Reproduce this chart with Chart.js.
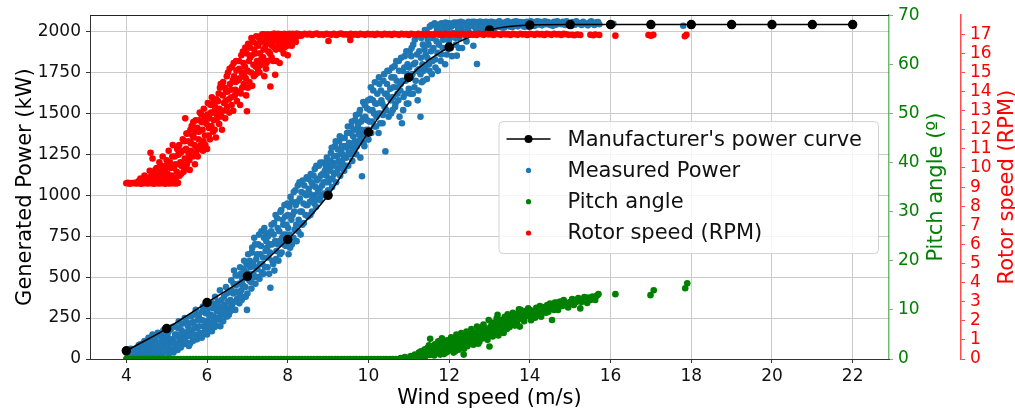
<!DOCTYPE html>
<html>
<head>
<meta charset="utf-8">
<title>Wind turbine power curve</title>
<script src="https://cdn.jsdelivr.net/npm/chart.js@4"></script>
<style>
  html, body { margin: 0; padding: 0; background: #fff; overflow: hidden; }
  canvas { display: block; }
</style>
</head>
<body>
<canvas id="powerChart" width="1015" height="414"></canvas>
<script>
// ---- tick labels ----
const windTicks = [4, 6, 8, 10, 12, 14, 16, 18, 20, 22];
const powerTicks = [0, 250, 500, 750, 1000, 1250, 1500, 1750, 2000];
const pitchTicks = [0, 10, 20, 30, 40, 50, 60, 70];
const rpmTicks = [0, 1, 2, 3, 4, 5, 6, 7, 8, 9, 10, 11, 12, 13, 14, 15, 16, 17];

// ---- manufacturer's curve (m/s -> kW) ----
const curveWind = [4, 5, 6, 7, 8, 9, 10, 11, 12, 13, 14, 15, 16, 17, 18, 19, 20, 21, 22];
const curvePower = [50, 186, 345, 505, 730, 1000, 1385, 1720, 1905, 2010, 2040, 2043, 2043, 2043, 2043, 2043, 2043, 2043, 2043];

// ---- measured power [wind m/s, kW] ----
const measuredPower = [
  [4.02,8],[4.05,25],[4.08,3],[4.1,40],[4.12,15],[4.15,0],[4.18,55],[4.2,20],[4.22,5],[4.25,35],
  [4.28,70],[4.3,12],[4.32,48],[4.35,90],[4.37,2],[4.4,60],[4.42,28],[4.45,110],[4.47,15],[4.5,75],
  [4.52,42],[4.55,130],[4.57,8],[4.6,95],[4.62,55],[4.65,150],[4.67,25],[4.7,80],[4.72,115],[4.75,40],
  [4.78,160],[4.8,10],[4.82,100],[4.85,65],[4.87,135],[4.9,30],[4.92,175],[4.95,85],[4.97,120],[5.0,50],
  [4.03,45],[4.06,12],[4.11,62],[4.14,30],[4.19,8],[4.23,50],[4.27,18],[4.31,85],[4.34,30],[4.39,5],
  [4.41,95],[4.44,50],[4.48,20],[4.51,100],[4.54,65],[4.58,30],[4.61,125],[4.64,78],[4.68,45],[4.71,140],
  [4.74,90],[4.77,20],[4.81,60],[4.84,145],[4.88,95],[4.91,55],[4.94,150],[4.98,105],
  [5.02,140],[5.05,30],[5.07,95],[5.1,180],[5.12,60],[5.15,120],[5.17,40],[5.2,200],[5.22,85],[5.25,150],
  [5.27,55],[5.3,230],[5.32,110],[5.35,70],[5.37,175],[5.4,135],[5.42,90],[5.45,250],[5.47,160],[5.5,100],
  [5.01,75],[5.04,165],[5.08,120],[5.11,45],[5.14,195],[5.18,100],[5.21,150],[5.24,70],[5.28,190],[5.31,130],
  [5.34,90],[5.38,215],[5.41,160],[5.44,115],[5.48,230],[5.51,140],
  [5.52,205],[5.55,80],[5.57,140],[5.6,260],[5.62,180],[5.65,110],[5.67,225],[5.7,150],[5.72,300],[5.75,120],
  [5.77,195],[5.8,270],[5.82,160],[5.85,240],[5.87,130],[5.9,320],[5.92,200],[5.95,175],[5.97,280],[6.0,150],
  [5.54,175],[5.58,95],[5.61,220],[5.64,150],[5.68,270],[5.71,190],[5.74,125],[5.78,240],[5.81,200],[5.84,140],
  [5.88,290],[5.91,235],[5.94,160],[5.98,215],[6.01,300],[6.04,185],
  [6.02,230],[6.05,340],[6.07,195],[6.1,270],[6.12,170],[6.15,310],[6.17,230],[6.2,380],[6.22,205],[6.25,290],
  [6.27,350],[6.3,240],[6.32,420],[6.35,270],[6.37,320],[6.4,230],[6.42,380],[6.45,300],[6.47,440],[6.5,260],
  [6.06,260],[6.09,220],[6.13,340],[6.16,260],[6.19,195],[6.23,330],[6.26,250],[6.29,300],[6.33,200],[6.36,360],
  [6.39,290],[6.43,330],[6.46,260],[6.49,400],[6.51,310],[6.54,270],
  [6.52,350],[6.55,410],[6.57,290],[6.6,480],[6.62,330],[6.65,400],[6.67,540],[6.7,300],[6.72,450],[6.75,370],
  [6.77,510],[6.8,340],[6.82,560],[6.85,420],[6.87,480],[6.9,380],[6.92,600],[6.95,440],[6.97,530],[7.0,400],
  [6.58,360],[6.61,420],[6.63,300],[6.66,460],[6.69,350],[6.71,510],[6.74,410],[6.78,460],[6.81,400],[6.84,520],
  [6.86,360],[6.89,450],[6.91,550],[6.94,500],[6.96,380],[6.98,580],
  [6.99,300],[7.02,640],[7.05,480],[7.07,560],[7.1,430],[7.12,680],[7.15,520],[7.17,740],[7.2,460],[7.22,610],
  [7.25,550],[7.27,700],[7.3,490],[7.32,640],[7.35,780],[7.37,580],[7.4,520],[7.42,800],[7.45,660],[7.47,720],
  [7.03,520],[7.06,600],[7.09,470],[7.11,650],[7.14,580],[7.16,500],[7.19,700],[7.21,560],[7.24,640],[7.26,500],
  [7.29,760],[7.31,580],[7.34,690],[7.36,530],[7.39,620],[7.41,740],[7.44,560],[7.46,770],[7.49,680],
  [7.5,560],[7.52,620],[7.55,700],[7.57,435],[7.6,820],[7.62,600],[7.65,760],[7.67,540],[7.7,880],[7.72,660],
  [7.75,800],[7.77,600],[7.8,720],[7.82,900],[7.85,650],[7.87,850],[7.9,760],[7.92,940],[7.95,690],[7.97,820],
  [7.51,750],[7.54,520],[7.56,650],[7.59,780],[7.61,700],[7.64,580],[7.66,830],[7.69,720],[7.71,610],[7.74,860],
  [7.76,700],[7.79,780],[7.81,640],[7.84,910],[7.86,740],[7.89,820],[7.91,700],[7.94,870],[7.96,760],[7.99,950],
  [8.0,880],[8.02,640],[8.05,760],[8.07,990],[8.1,700],[8.12,880],[8.15,1020],[8.17,790],[8.2,940],[8.22,720],
  [8.25,1060],[8.27,850],[8.3,980],[8.32,760],[8.35,900],[8.37,1090],[8.4,830],[8.42,1010],[8.45,940],[8.47,1110],
  [8.01,800],[8.04,930],[8.06,680],[8.09,850],[8.11,960],[8.14,740],[8.16,900],[8.19,1030],[8.21,820],[8.24,960],
  [8.26,780],[8.29,1080],[8.31,900],[8.34,1020],[8.36,820],[8.39,950],[8.41,1060],[8.44,880],[8.46,1000],[8.49,940],
  [8.5,870],[8.52,1040],[8.55,960],[8.57,1130],[8.6,900],[8.62,1060],[8.65,1000],[8.67,1160],[8.7,930],[8.72,1090],
  [8.75,1020],[8.77,1180],[8.8,970],[8.82,1120],[8.85,1060],[8.87,1200],[8.9,1000],[8.92,1150],[8.95,1080],[8.97,1230],
  [8.51,1100],[8.54,1010],[8.56,880],[8.59,1080],[8.61,980],[8.64,1120],[8.66,950],[8.69,1050],[8.71,1180],[8.74,980],
  [8.76,1100],[8.79,1040],[8.81,1200],[8.84,1000],[8.86,1130],[8.89,1080],[8.91,1010],[8.94,1180],[8.96,1120],[8.99,1200],
  [9.0,1030],[9.02,1170],[9.05,1100],[9.07,1260],[9.1,1050],[9.12,1200],[9.15,1130],[9.17,1300],[9.2,1080],[9.22,1240],
  [9.25,1160],[9.27,1330],[9.3,1120],[9.32,1270],[9.35,1200],[9.37,1350],[9.4,1150],[9.42,1300],[9.45,1230],[9.47,1380],
  [9.01,1080],[9.04,1210],[9.06,1150],[9.09,1290],[9.11,1100],[9.14,1240],[9.16,1180],[9.19,1330],[9.21,1140],[9.24,1280],
  [9.26,1210],[9.29,1360],[9.31,1180],[9.34,1300],[9.36,1250],[9.39,1230],[9.41,1350],[9.44,1180],[9.46,1290],[9.49,1420],
  [9.5,1180],[9.52,1320],[9.55,1250],[9.57,1420],[9.6,1210],[9.62,1360],[9.65,1290],[9.67,1460],[9.7,1250],[9.72,1400],
  [9.75,1330],[9.77,1500],[9.8,1230],[9.82,1450],[9.84,1116],[9.85,1370],[9.87,1570],[9.9,1300],[9.92,1480],[9.95,1400],
  [9.51,1260],[9.54,1380],[9.56,1300],[9.59,1450],[9.61,1270],[9.64,1400],[9.66,1330],[9.69,1490],[9.71,1300],[9.74,1430],
  [9.76,1370],[9.79,1520],[9.81,1340],[9.83,1400],[9.86,1470],[9.88,1320],[9.91,1550],[9.93,1380],[9.96,1460],[9.99,1580],
  [9.97,1530],[10.0,1340],[10.02,1450],[10.05,1590],[10.07,1380],[10.1,1520],[10.12,1640],[10.15,1420],[10.17,1560],[10.2,1480],
  [10.22,1620],[10.25,1380],[10.27,1680],[10.3,1500],[10.32,1580],[10.35,1440],[10.37,1700],[10.4,1540],[10.42,1268],[10.45,1620],
  [10.01,1400],[10.04,1520],[10.06,1660],[10.09,1450],[10.11,1580],[10.14,1500],[10.16,1690],[10.19,1420],[10.21,1560],[10.24,1500],
  [10.26,1720],[10.29,1440],[10.31,1640],[10.34,1560],[10.36,1490],[10.39,1740],[10.41,1620],[10.44,1520],[10.46,1680],[10.49,1600],
  [10.47,1760],[10.5,1480],[10.55,1580],[10.57,1720],[10.6,1520],[10.62,1660],[10.65,1790],[10.67,1560],[10.7,1700],[10.72,1620],
  [10.75,1820],[10.77,1480],[10.8,1680],[10.83,1440],[10.85,1760],[10.87,1600],[10.9,1850],[10.92,1700],[10.95,1560],[10.97,1800],
  [10.51,1760],[10.54,1650],[10.56,1500],[10.59,1780],[10.61,1600],[10.64,1720],[10.66,1540],[10.69,1820],[10.71,1660],[10.74,1580],
  [10.76,1760],[10.79,1640],[10.81,1840],[10.84,1700],[10.86,1520],[10.89,1780],[10.91,1620],[10.94,1880],[10.96,1740],[10.99,1560],
  [11.0,1650],[11.02,1880],[11.05,1720],[11.07,1900],[11.1,1620],[11.12,1800],[11.15,1950],[11.17,1700],[11.2,1860],[11.22,1580],
  [11.25,1770],[11.27,1980],[11.29,1480],[11.3,1840],[11.32,1690],[11.35,1920],[11.37,1760],[11.4,2010],[11.42,1860],[11.45,1710],
  [11.01,1780],[11.04,1620],[11.06,1850],[11.09,1740],[11.11,1920],[11.14,1660],[11.16,1810],[11.19,1980],[11.21,1760],[11.24,1640],
  [11.26,1880],[11.29,1740],[11.31,1960],[11.34,1800],[11.36,1700],[11.39,1890],[11.41,1780],[11.44,2000],[11.46,1840],[11.49,1920],
  [11.47,1950],[11.5,1800],[11.52,2030],[11.55,1880],[11.57,1740],[11.6,1960],[11.62,2040],[11.65,1830],[11.67,1990],[11.7,2020],
  [11.72,1760],[11.75,1920],[11.77,2045],[11.8,1860],[11.82,2000],[11.85,1950],[11.87,2040],[11.9,1800],[11.92,1980],[11.95,2030],
  [11.51,1760],[11.54,1960],[11.56,2040],[11.59,1820],[11.61,1900],[11.64,2050],[11.66,1780],[11.69,1940],[11.71,1870],[11.74,2040],
  [11.76,1980],[11.79,1820],[11.81,2050],[11.84,1900],[11.86,2020],[11.89,1960],[11.91,2055],[11.94,1860],[11.96,2010],[11.99,1940],
  [11.97,1900],[12.0,2050],[12.02,1960],[12.05,2030],[12.07,1850],[12.1,2050],[12.12,1990],[12.15,2040],[12.17,1920],[12.19,1853],
  [12.2,2055],[12.22,2010],[12.25,1960],[12.27,2045],[12.3,2030],[12.32,1900],[12.35,2055],[12.37,2000],[12.4,2040],[12.42,1970],
  [12.45,2050],[12.47,2020],[12.5,2055],[12.52,1990],[12.55,2040],[12.57,2060],[12.6,1913],[12.62,2030],[12.65,2050],[12.67,2015],
  [12.69,1802],[12.72,2045],[12.75,2060],[12.77,2030],[12.8,2050],[12.82,2010],[12.85,2055],[12.87,2040],[12.9,2025],[12.92,2060],
  [12.01,2040],[12.04,1900],[12.09,1990],[12.13,2055],[12.16,1960],[12.21,2035],[12.24,1900],[12.29,2060],[12.33,2000],[12.38,2045],
  [12.43,1940],[12.48,2060],[12.53,2040],[12.58,1980],[12.63,2060],[12.68,2040],[12.73,2000],[12.79,2060],[12.84,2030],[12.89,2058],
  [12.94,2015],[12.99,2055],
  [12.95,2045],[12.97,2035],[13.02,2050],[13.05,2030],[13.08,2058],[13.1,2040],[13.13,2022],[13.16,2055],[13.2,2045],[13.23,2030],
  [13.26,2060],[13.3,2040],[13.33,2050],[13.37,2025],[13.4,2058],[13.43,2042],[13.47,2035],[13.5,2055],[13.53,2045],[13.57,2028],
  [13.6,2060],[13.63,2040],[13.67,2050],[13.7,2032],[13.73,2058],[13.77,2045],[13.8,2038],[13.84,2055],[13.88,2042],[13.92,2060],
  [13.96,2030],[14.0,2050],[14.04,2045],[14.08,2058],[14.12,2035],[14.16,2052],[14.2,2043],[14.25,2060],[14.3,2038],[14.35,2052],
  [14.4,2045],[14.45,2058],[14.5,2040],[14.55,2052],[14.6,2060],[14.65,2042],[14.7,2055],[14.76,2048],[14.82,2060],[14.88,2040],
  [14.94,2054],[15.0,2046],[15.06,2058],[15.12,2042],[15.18,2055],[15.25,2048],[15.32,2060],[15.4,2045],[15.48,2055],[15.56,2048],
  [15.65,2057],[15.72,2045],[16.07,2048],[17.8,2036],
  [13.04,2060],[13.11,2050],[13.18,2035],[13.24,2062],[13.31,2025],[13.38,2048],[13.45,2062],[13.52,2030],[13.59,2050],[13.66,2062],
  [13.72,2045],[13.79,2058],[13.86,2030],[13.94,2048],[14.02,2062],[14.1,2048],[14.18,2062],[14.27,2048],[14.37,2062],[14.47,2050],
  [14.57,2035],[14.68,2062],[14.79,2045],[14.91,2062],[15.03,2035],[15.15,2062],[15.28,2040],[15.36,2052],[15.44,2038],[15.52,2062],
  [15.6,2040],[15.69,2058]
];

// ---- pitch angle [wind m/s, deg] ----
const pitchZeroWind = [
  4.0,4.07,4.15,4.22,4.3,4.36,4.45,4.52,4.6,4.67,4.75,4.82,4.9,4.97,5.05,5.12,5.2,5.27,5.35,5.42,
  5.5,5.58,5.65,5.72,5.8,5.88,5.95,6.03,6.1,6.18,6.25,6.33,6.4,6.48,6.55,6.63,6.7,6.78,6.85,6.93,
  7.0,7.08,7.15,7.23,7.3,7.38,7.45,7.53,7.6,7.68,7.75,7.83,7.9,7.98,8.05,8.13,8.2,8.28,8.35,8.43,
  8.5,8.58,8.65,8.73,8.8,8.88,8.95,9.03,9.1,9.18,9.25,9.33,9.4,9.48,9.55,9.63,9.7,9.78,9.85,9.93,
  10.0,10.08,10.15,10.23,10.3,10.38,10.45,10.53,10.6,10.68,10.75
];
const pitchAngle = [
  [10.8,0.2],[10.9,0.4],[11.0,0.3],[11.05,0.6],[11.1,0.2],[11.15,0.9],[11.2,0.5],[11.25,1.3],[11.29,1.5],[11.3,0.4],
  [11.35,1.0],[11.4,2.0],[11.42,0.6],[11.45,1.6],[11.5,2.8],[11.53,4.1],[11.55,1.1],[11.6,2.2],[11.63,0.7],[11.65,3.0],
  [11.7,1.7],[11.73,3.6],[11.75,2.4],[11.78,0.9],[11.8,2.9],[11.82,4.2],[11.85,1.8],[11.88,3.3],[11.9,2.5],[11.93,1.3],
  [11.95,3.8],[11.98,2.1],[12.0,3.2],[12.03,1.9],[12.05,4.4],[12.08,2.7],[12.1,4.2],[12.12,3.5],[12.15,1.6],[12.18,5.0],
  [12.2,3.0],[12.22,4.5],[12.25,2.3],[12.28,3.9],[12.3,5.3],[12.33,2.8],[12.36,0.9],[12.38,4.6],[12.4,3.4],[12.43,5.6],
  [12.45,2.6],[12.48,4.1],[12.5,5.0],[12.53,3.3],[12.55,6.1],[12.58,4.4],[12.6,2.9],[12.63,5.4],[12.65,3.8],[12.69,6.6],
  [12.7,4.7],[12.73,5.9],[12.75,3.5],[12.78,6.4],[12.8,5.1],[12.83,4.2],[12.85,7.0],[12.88,5.6],[12.9,4.5],[12.93,6.2],
  [12.95,3.9],[12.98,7.95],[13.0,2.55],[13.02,5.8],[13.05,6.9],[13.08,4.6],[13.1,7.4],[13.13,5.3],[13.15,6.3],[13.18,8.3],
  [13.2,9.0],[13.22,4.8],[13.25,7.0],[13.28,5.9],[13.3,8.0],[13.33,6.6],[13.35,5.3],[13.38,8.6],[13.4,7.3],[13.43,6.1],
  [13.45,9.1],[13.48,7.8],[13.5,6.5],[13.53,8.4],[13.55,7.0],[13.58,9.4],[13.6,8.0],[13.63,6.8],[13.65,9.0],[13.68,7.5],
  [13.7,8.6],[13.73,10.1],[13.75,6.6],[13.77,10.0],[13.8,8.2],[13.83,9.3],[13.86,7.7],[13.9,9.8],[13.93,8.7],[13.96,10.3],
  [14.0,9.0],[14.03,7.9],[14.06,9.6],[14.1,9.6],[14.13,8.4],[14.16,10.4],[14.2,9.2],[14.25,10.8],[14.28,8.6],[14.32,9.9],
  [14.36,10.6],[14.4,9.4],[14.43,11.0],[14.47,10.2],[14.5,11.3],[14.55,7.95],[14.58,10.5],[14.62,11.5],[14.67,11.0],[14.7,10.0],
  [14.75,11.7],[14.8,10.8],[14.84,12.0],[14.9,11.2],[14.95,10.5],[15.0,11.6],[15.05,12.2],[15.09,11.0],[15.15,11.6],[15.2,12.4],
  [15.25,10.3],[15.3,11.8],[15.35,12.6],[15.42,11.4],[15.5,12.0],[15.55,12.7],[15.6,12.3],[15.66,12.9],[15.7,13.2],[16.12,13.2],
  [16.99,13.0],[17.07,14.0],[17.85,14.4],[17.9,15.4],
  [11.12,0.4],[11.18,0.8],[11.22,0.3],[11.27,0.7],[11.33,1.6],[11.37,0.5],[11.43,1.2],[11.47,2.3],[11.52,0.8],[11.58,1.5],
  [11.62,2.7],[11.68,1.2],[11.72,2.0],[11.77,3.1],[11.83,2.2],[11.87,1.0],[11.92,3.0],[11.97,1.6],[12.02,2.4],[12.07,3.6],
  [12.11,1.3],[12.14,2.8],[12.19,3.8],[12.24,1.9],[12.27,4.9],[12.32,3.6],[12.37,2.1],[12.42,4.0],[12.47,3.0],[12.52,4.6],
  [12.57,3.5],[12.62,5.0],[12.67,4.2],[12.72,3.1],[12.77,5.3],[12.82,4.6],[12.87,6.0],[12.92,5.3],[12.97,4.9],[13.03,6.5],
  [13.07,5.5],[13.12,6.1],[13.17,7.0],[13.21,6.0],[13.27,7.7],[13.32,6.2],[13.37,7.2],[13.42,8.1],[13.47,6.9],[13.52,7.5],
  [13.57,8.6],[13.62,7.3],[13.67,8.2],[13.72,9.3],[13.78,8.8],[13.84,8.0],[13.88,9.0],[13.95,9.5],[14.02,9.9],[14.08,8.6],
  [14.14,9.4],[14.22,10.1],[14.3,9.5],[14.38,10.2],[14.46,9.6],[14.53,10.8],[14.6,10.0],[14.68,11.5],[14.78,11.2],[14.86,11.0],
  [14.98,11.5],[15.12,12.0],[15.28,11.6],[15.45,12.5],[15.62,12.0]
];

// ---- rotor speed [wind m/s, rpm] ----
const rotorSpeed = [
  [4.0,9.2],[4.04,9.22],[4.08,9.18],[4.12,9.21],[4.16,9.2],[4.2,9.23],[4.24,9.19],[4.28,9.2],[4.32,9.22],[4.36,9.18],
  [4.4,9.21],[4.44,9.2],[4.48,9.23],[4.52,9.19],[4.56,9.21],[4.6,9.2],[4.64,9.22],[4.68,9.18],[4.72,9.2],[4.76,9.22],
  [4.8,9.19],[4.84,9.21],[4.88,9.2],[4.92,9.23],[4.96,9.18],[5.0,9.2],[5.04,9.21],[5.08,9.19],[5.12,9.22],[5.16,9.2],
  [5.2,9.21],[5.24,9.19],[5.28,9.22],
  [4.35,9.45],[4.45,9.6],[4.52,9.4],[4.58,9.85],[4.6,10.8],[4.65,10.5],[4.7,9.7],[4.75,10.0],[4.78,9.5],[4.82,10.3],
  [4.86,9.8],[4.9,10.6],[4.94,9.45],[4.98,10.1],[5.02,9.7],[5.05,10.9],[5.08,10.3],[5.12,9.6],[5.15,11.2],[5.18,10.0],
  [5.2,10.6],[5.23,9.5],[5.26,11.0],[5.3,10.2],
  [4.3,9.3],[4.42,9.35],[4.5,9.5],[4.55,9.3],[4.62,9.6],[4.66,9.35],[4.72,9.9],[4.74,9.4],[4.8,9.6],[4.84,9.35],
  [4.88,10.1],[4.92,9.7],[4.96,9.95],[5.0,10.4],[5.06,9.45],[5.1,10.0],[5.14,10.6],[5.17,9.4],[5.22,10.2],[5.25,9.8],
  [5.29,10.7],
  [5.32,9.6],[5.35,10.8],[5.37,10.1],[5.4,11.5],[5.42,9.8],[5.45,10.5],[5.46,12.6],[5.48,11.0],[5.5,10.2],[5.52,11.8],
  [5.55,10.7],[5.57,9.9],[5.6,11.3],[5.62,12.2],[5.65,10.6],[5.67,11.6],[5.7,10.2],[5.72,12.5],[5.74,11.1],
  [5.31,11.2],[5.34,10.3],[5.36,9.7],[5.39,10.9],[5.41,10.2],[5.44,11.4],[5.47,10.0],[5.49,11.8],[5.51,10.9],[5.54,11.4],
  [5.56,10.4],[5.59,12.0],[5.61,10.9],[5.64,11.7],[5.66,12.4],[5.69,11.2],[5.71,11.9],[5.73,10.8],
  [5.77,10.6],[5.8,11.9],[5.82,12.9],[5.85,11.2],[5.87,12.4],[5.9,10.9],[5.92,13.1],[5.95,11.7],[5.97,12.6],[6.0,11.0],
  [6.02,13.4],[6.05,12.1],[6.07,11.5],[6.1,12.9],[6.12,13.7],[6.15,11.9],[6.17,12.5],[6.2,13.2],[6.22,11.6],[6.24,12.8],
  [5.76,12.1],[5.79,11.5],[5.81,12.5],[5.84,11.0],[5.86,12.8],[5.89,12.0],[5.91,11.4],[5.94,12.7],[5.96,11.2],[5.99,12.3],
  [6.01,12.8],[6.04,11.7],[6.06,12.6],[6.09,13.3],[6.11,12.2],[6.14,12.9],[6.16,13.5],[6.19,12.0],[6.21,13.0],[6.23,13.6],
  [6.27,13.5],[6.3,12.3],[6.32,14.2],[6.35,13.0],[6.37,12.0],[6.4,14.5],[6.42,13.4],[6.45,12.6],[6.47,14.0],[6.5,13.2],
  [6.52,15.0],[6.55,12.9],[6.57,14.4],[6.6,13.7],[6.62,15.3],[6.65,13.0],[6.67,14.8],[6.7,14.1],[6.72,15.6],[6.74,13.5],
  [6.26,12.6],[6.29,13.9],[6.31,13.1],[6.34,14.4],[6.36,12.7],[6.39,13.8],[6.41,13.0],[6.44,14.2],[6.46,13.5],[6.49,14.8],
  [6.51,14.0],[6.54,13.6],[6.56,15.2],[6.59,14.1],[6.61,13.3],[6.64,14.6],[6.66,15.5],[6.69,13.8],[6.71,14.5],[6.73,15.1],
  [6.77,14.6],[6.8,15.2],[6.82,13.3],[6.85,15.9],[6.87,14.2],[6.9,15.5],[6.92,14.9],[6.95,16.3],[6.97,13.8],[6.99,12.97],
  [7.0,15.1],[7.02,16.5],[7.05,14.5],[7.07,15.8],[7.1,16.8],[7.12,14.3],[7.15,15.4],[7.17,16.2],[7.2,14.9],[7.22,16.9],
  [6.76,14.0],[6.79,15.6],[6.81,14.7],[6.84,13.9],[6.86,15.0],[6.89,16.1],[6.91,14.4],[6.94,15.3],[6.96,14.7],[6.98,16.0],
  [7.01,14.2],[7.04,15.6],[7.06,16.3],[7.09,15.0],[7.11,15.9],[7.14,16.6],[7.16,14.8],[7.19,16.0],[7.21,15.3],[7.23,16.5],
  [7.24,15.6],[7.27,16.4],[7.3,15.0],[7.32,16.9],[7.35,15.7],[7.37,17.0],[7.4,16.2],[7.42,14.8],[7.45,16.7],[7.47,15.5],
  [7.5,17.0],[7.52,16.1],[7.55,16.9],[7.57,14.27],[7.6,15.8],[7.62,16.6],[7.65,17.02],[7.67,16.3],[7.69,14.88],[7.7,16.9],
  [7.26,15.2],[7.29,16.8],[7.31,16.0],[7.34,15.4],[7.36,16.6],[7.39,15.8],[7.41,17.0],[7.44,16.3],[7.46,15.2],[7.49,16.5],
  [7.51,15.6],[7.54,16.8],[7.56,16.0],[7.59,17.0],[7.61,16.4],[7.64,15.6],[7.66,16.8],[7.68,17.02],[7.71,16.2],[7.73,16.7],
  [7.72,15.6],[7.74,17.0],[7.77,16.5],[7.8,15.5],[7.82,17.0],[7.85,16.2],[7.87,16.8],[7.9,16.0],[7.92,17.03],[7.95,16.6],
  [7.97,16.9],[8.0,15.9],[8.02,17.0],[8.05,16.7],[8.07,16.95],[8.1,16.4],[8.12,17.02],[8.15,16.8],[8.18,17.0],[8.2,16.6],
  [8.22,16.95],[8.25,17.03],
  [7.76,17.02],[7.79,16.3],[7.81,16.8],[7.84,17.0],[7.86,16.5],[7.89,16.9],[7.91,16.3],[7.94,17.0],[7.96,16.8],[7.99,16.4],
  [8.01,16.9],[8.04,17.02],[8.06,16.5],[8.09,16.95],[8.11,16.7],[8.14,17.0],[8.16,16.9],[8.19,16.75],[8.21,17.02],[8.24,16.9],
  [8.27,16.98],[8.33,16.93],
  [8.3,17.0],[8.36,16.97],[8.42,17.03],[8.48,16.99],[8.54,17.02],[8.6,16.96],[8.66,17.01],[8.72,17.04],[8.78,16.98],[8.84,17.0],
  [8.9,16.97],[8.96,17.03],[9.01,16.65],[9.02,17.0],[9.08,16.98],[9.14,17.02],[9.2,16.96],[9.26,17.01],[9.32,17.04],[9.38,16.99],
  [9.44,17.0],[9.5,16.97],[9.55,16.7],[9.56,17.03],[9.62,16.98],[9.68,17.01],[9.74,16.96],[9.8,17.02],[9.86,17.0],[9.92,16.97],
  [9.98,17.03],[10.04,16.99],[10.1,17.01],[10.16,16.96],[10.22,17.02],[10.28,17.0],[10.34,16.97],[10.4,17.03],[10.46,16.99],[10.52,17.01],
  [10.58,16.96],[10.64,17.02],[10.7,17.0],[10.76,16.97],[10.82,17.03],[10.88,16.99],[10.94,17.01],[11.0,16.96],[11.06,17.02],[11.12,17.0],
  [11.18,16.97],[11.24,17.03],[11.3,16.99],[11.36,17.01],[11.42,16.96],[11.48,17.02],[11.54,17.0],[11.6,16.97],[11.66,17.03],[11.72,16.99],
  [11.78,17.01],[11.84,16.96],[11.9,17.02],[11.96,17.0],[12.02,16.97],[12.08,17.03],[12.14,16.99],[12.2,17.01],[12.26,16.96],[12.32,17.02],
  [12.38,17.0],[12.44,16.97],[12.5,17.03],[12.56,16.99],[12.62,17.01],[12.68,16.96],[12.74,17.02],[12.8,17.0],[12.86,16.97],[12.92,17.03],
  [12.98,16.99],[13.04,17.01],[13.1,16.96],[13.16,17.02],[13.22,17.0],[13.28,16.97],[13.34,17.03],[13.4,16.99],[13.46,17.01],[13.52,16.96],
  [13.58,17.02],[13.64,17.0],[13.7,16.97],[13.76,17.03],[13.82,16.99],[13.88,17.01],[13.94,16.96],[14.0,17.02],[14.06,17.0],[14.12,16.97],
  [14.18,17.03],[14.24,16.99],[14.3,17.01],[14.36,16.96],[14.42,17.02],[14.48,17.0],[14.54,16.97],[14.6,17.03],[14.66,16.99],[14.72,17.01],
  [14.78,16.96],[14.84,17.02],[14.9,17.0],[14.96,16.97],[15.05,16.98],[15.1,16.95],[15.18,16.99],[15.25,16.96],[15.5,16.98],[15.57,16.95],
  [15.62,16.99],[15.72,16.96],[16.12,16.93],[16.94,16.96],[17.0,16.93],[17.06,16.97],[17.84,16.9],[17.88,16.97]
];

const toPoints = pairs => pairs.map(([x, y]) => ({ x, y }));

const BLUE = '#1f77b4';
const GREEN = '#008000';
const RED = '#ff0000';
const gridColor = '#cbcbcb';
const tickFont = { family: "'DejaVu Sans', sans-serif", size: 17 };
const titleFont = "21px 'DejaVu Sans', sans-serif";

Chart.defaults.font.family = "'DejaVu Sans', sans-serif";

const setTicks = list => axis => { axis.ticks = list.map(value => ({ value })); };
const plainLabel = v => String(v);

// spines, axis titles and the legend box
const frameAndLegend = {
  id: 'frameAndLegend',
  afterDraw(chart) {
    const { ctx, chartArea: area, scales } = chart;
    ctx.save();

    // top spine
    ctx.strokeStyle = '#222';
    ctx.lineWidth = 1;
    ctx.beginPath();
    ctx.moveTo(area.left, Math.round(area.top) + 0.5);
    ctx.lineTo(area.right, Math.round(area.top) + 0.5);
    ctx.stroke();

    // axis titles
    const midY = (area.top + area.bottom) / 2;
    ctx.font = titleFont;
    ctx.textAlign = 'center';
    ctx.textBaseline = 'alphabetic';
    const vertical = (text, x, color) => {
      ctx.save();
      ctx.translate(x, midY);
      ctx.rotate(-Math.PI / 2);
      ctx.fillStyle = color;
      ctx.fillText(text, 0, 0);
      ctx.restore();
    };
    vertical('Generated Power (kW)', scales.y.left + 31, '#000');
    vertical('Pitch angle (º)', scales.yPitch.left + 53, GREEN);
    vertical('Rotor speed (RPM)', scales.yRpm.left + 52, RED);
    ctx.fillStyle = '#000';
    ctx.fillText('Wind speed (m/s)', (area.left + area.right) / 2, scales.x.top + 45);

    // legend, centred on the right side of the plot
    const sets = chart.data.datasets;
    ctx.font = titleFont;
    const textW = Math.max(...sets.map(d => ctx.measureText(d.label).width));
    const rowGap = 31.3;
    const boxW = 8 + 44 + 17 + textW + 16;
    const boxH = 132;
    const boxR = area.right - 11;
    const boxL = boxR - boxW;
    const boxT = midY - boxH / 2;
    ctx.beginPath();
    ctx.roundRect(boxL + 0.5, boxT + 0.5, boxW, boxH, 4);
    ctx.fillStyle = 'rgba(255,255,255,0.8)';
    ctx.fill();
    ctx.strokeStyle = '#d2d2d2';
    ctx.stroke();

    ctx.textAlign = 'left';
    ctx.textBaseline = 'middle';
    sets.forEach((d, i) => {
      const cy = boxT + 18 + i * rowGap;
      const cx = boxL + 8 + 22;
      if (d.type === 'line') {
        ctx.strokeStyle = d.borderColor;
        ctx.lineWidth = d.borderWidth;
        ctx.beginPath();
        ctx.moveTo(boxL + 8, cy);
        ctx.lineTo(boxL + 52, cy);
        ctx.stroke();
        ctx.beginPath();
        ctx.arc(cx, cy, d.pointRadius, 0, Math.PI * 2);
        ctx.fillStyle = d.backgroundColor;
        ctx.fill();
      } else {
        ctx.beginPath();
        ctx.arc(cx, cy, 2.6, 0, Math.PI * 2);
        ctx.fillStyle = d.backgroundColor;
        ctx.fill();
      }
      ctx.fillStyle = '#111';
      ctx.fillText(d.label, boxL + 69, cy + 1);
    });

    ctx.restore();
  }
};

const dotStyle = { pointRadius: 3.3, pointHoverRadius: 3.3, borderWidth: 0, clip: 0 };

new Chart(document.getElementById('powerChart'), {
  type: 'scatter',
  data: {
    datasets: [
      {
        type: 'line',
        label: "Manufacturer's power curve",
        data: curveWind.map((x, i) => ({ x, y: curvePower[i] })),
        yAxisID: 'y',
        borderColor: '#000',
        backgroundColor: '#000',
        borderWidth: 1.5,
        pointRadius: 4,
        pointHoverRadius: 4,
        cubicInterpolationMode: 'monotone',
        fill: false,
        order: 2
      },
      {
        label: 'Measured Power',
        data: toPoints(measuredPower),
        yAxisID: 'y',
        backgroundColor: BLUE,
        ...dotStyle,
        order: 3
      },
      {
        label: 'Pitch angle',
        data: pitchZeroWind.map(x => ({ x, y: 0 })).concat(toPoints(pitchAngle)),
        yAxisID: 'yPitch',
        backgroundColor: GREEN,
        ...dotStyle,
        order: 1
      },
      {
        label: 'Rotor speed (RPM)',
        data: toPoints(rotorSpeed),
        yAxisID: 'yRpm',
        backgroundColor: RED,
        ...dotStyle,
        order: 0
      }
    ]
  },
  options: {
    responsive: false,
    animation: false,
    devicePixelRatio: 1,
    events: [],
    layout: { padding: { top: 13, left: 0, right: 0, bottom: 0 } },
    plugins: { legend: { display: false }, tooltip: { enabled: false } },
    scales: {
      x: {
        type: 'linear',
        min: 3.1,
        max: 22.9,
        afterBuildTicks: setTicks(windTicks),
        afterFit: axis => { axis.height = 55; },
        grid: { color: gridColor, lineWidth: 1, tickLength: 4, tickColor: '#333', tickWidth: 1 },
        border: { color: '#333', width: 1 },
        ticks: { font: tickFont, color: '#111', padding: 3, maxRotation: 0, autoSkip: false, callback: plainLabel }
      },
      y: {
        position: 'left',
        min: 0,
        max: 2100,
        afterBuildTicks: setTicks(powerTicks),
        afterFit: axis => { axis.width = 90; },
        grid: {
          color: c => (c.tick && c.tick.value === 0 ? 'rgba(0,0,0,0)' : gridColor),
          lineWidth: 1, tickLength: 4, tickColor: '#333', tickWidth: 1
        },
        border: { color: '#333', width: 1 },
        ticks: { font: tickFont, color: '#111', padding: 5, autoSkip: false, callback: plainLabel }
      },
      yPitch: {
        position: 'right',
        min: 0,
        max: 70,
        afterBuildTicks: setTicks(pitchTicks),
        afterFit: axis => { axis.width = 72; },
        grid: { drawOnChartArea: false, tickLength: 4, tickColor: 'rgba(0,128,0,0.55)', tickWidth: 1 },
        border: { color: 'rgba(0,128,0,0.55)', width: 1.5 },
        ticks: { font: tickFont, color: GREEN, padding: 5, autoSkip: false, callback: plainLabel }
      },
      yRpm: {
        position: 'right',
        min: 0,
        max: 18,
        afterBuildTicks: setTicks(rpmTicks),
        afterFit: axis => { axis.width = 54; },
        grid: { drawOnChartArea: false, tickLength: 4, tickColor: 'rgba(255,0,0,0.7)', tickWidth: 1 },
        border: { color: 'rgba(255,0,0,0.7)', width: 1.5 },
        ticks: { font: tickFont, color: RED, padding: 5, autoSkip: false, callback: plainLabel }
      }
    }
  },
  plugins: [frameAndLegend]
});
</script>
</body>
</html>
